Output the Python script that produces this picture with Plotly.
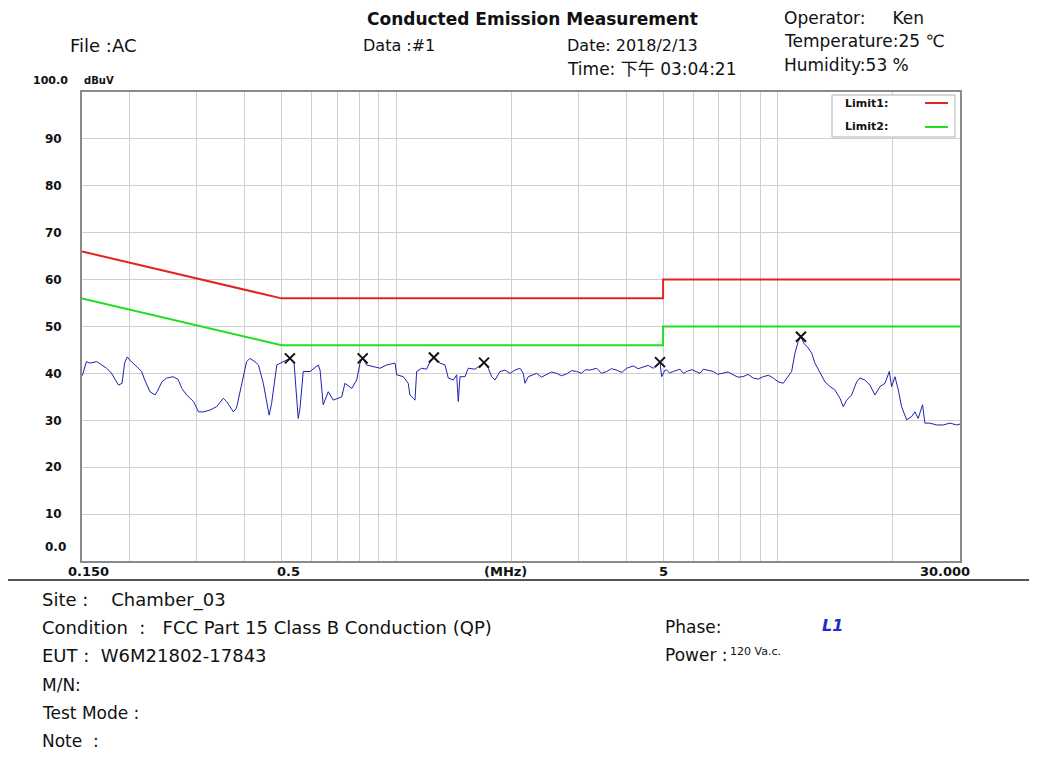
import plotly.graph_objects as go

# ---------------- data ----------------
freq_mhz = [
    0.150, 0.151, 0.154, 0.157, 0.164, 0.169, 0.174, 0.179, 0.187, 0.191, 0.194, 0.197, 0.202, 0.209, 0.215, 0.219,
    0.226, 0.233, 0.236, 0.243, 0.250, 0.260, 0.268, 0.274, 0.282, 0.294, 0.303, 0.312, 0.325, 0.338, 0.352, 0.359, 0.374, 0.381,
    0.393, 0.405, 0.413, 0.426, 0.435, 0.448, 0.464, 0.471, 0.486, 0.505, 0.526, 0.539, 0.553, 0.559, 0.570, 0.594,
    0.624, 0.631, 0.643, 0.663, 0.683, 0.719, 0.733, 0.764, 0.787, 0.803, 0.816, 0.836, 0.870, 0.906, 0.943, 0.992,
    1.002, 1.043, 1.074, 1.085, 1.107, 1.119, 1.130, 1.165, 1.200, 1.225, 1.254, 1.301, 1.341, 1.368, 1.410, 1.439, 1.453, 1.468,
    1.513, 1.543, 1.607, 1.673, 1.697, 1.741, 1.777, 1.813, 1.869, 1.926, 1.985, 2.046, 2.108, 2.151, 2.173, 2.217, 2.331,
    2.40, 2.477, 2.55, 2.631, 2.71, 2.795, 2.88, 2.969, 3.060, 3.13, 3.216, 3.350, 3.45, 3.557, 3.66, 3.779, 3.90, 4.014, 4.178, 4.30, 4.437, 4.57, 4.713, 4.908,
    4.957, 5.005, 5.057, 5.108, 5.20, 5.316, 5.426, 5.536, 5.65, 5.764, 5.95, 6.122, 6.25, 6.371, 6.55, 6.767, 6.95, 7.187, 7.40, 7.634, 7.85, 8.109, 8.35, 8.613, 8.88, 9.150, 9.45, 9.719, 9.85,
    10.02, 10.32, 10.64, 10.86, 11.08, 11.30, 11.49, 11.70, 12.01, 12.26, 12.50, 12.89, 13.28, 13.69, 14.10, 14.54,
    14.83, 15.14, 15.60, 16.08, 16.40, 16.90, 17.42, 17.96, 18.51, 19.08, 19.58, 19.86, 20.26,
    20.67, 21.09, 21.74, 22.41, 22.86, 23.31, 23.93, 24.27, 25.01, 26.05, 27.10, 28.23, 29.40, 30.0,
]
level_dbuv = [
    39.5, 40.1, 42.5, 42.2, 42.5, 41.8, 41.1, 40.1, 37.5, 37.9, 42.2, 43.5, 42.5, 41.4, 40.4, 38.6,
    36.1, 35.4, 36.1, 38.2, 39.0, 39.3, 38.7, 36.8, 35.4, 34.0, 31.8, 31.8, 32.2, 32.9, 34.7, 34.0, 31.8, 32.6,
    37.9, 42.5, 43.2, 42.5, 41.8, 37.9, 31.1, 33.6, 41.8, 42.5, 43.2, 42.5, 30.4, 32.6, 40.4, 40.4,
    41.8, 40.7, 33.3, 36.1, 34.3, 35.0, 37.9, 36.8, 38.6, 42.2, 43.2, 41.8, 41.4, 41.1, 41.8, 42.2,
    39.7, 39.3, 37.9, 35.4, 34.7, 34.3, 40.4, 41.1, 40.9, 42.5, 43.4, 42.2, 41.8, 39.0, 38.6, 39.7, 34.0, 39.3,
    39.3, 41.1, 40.9, 41.8, 42.3, 41.1, 39.3, 38.6, 40.4, 40.7, 40.0, 40.7, 41.1, 40.0, 37.9, 39.3, 40.0,
    39.2, 39.7, 40.3, 40.0, 39.5, 39.9, 40.6, 40.4, 40.0, 40.8, 40.7, 41.1, 40.0, 40.4, 41.0, 40.7, 40.2, 41.1, 41.6, 41.0, 41.3, 41.7, 41.1, 42.4,
    39.3, 40.0, 40.7, 40.7, 40.1, 40.4, 40.6, 40.9, 40.0, 40.4, 40.8, 40.4, 40.0, 40.9, 40.6, 40.4, 39.8, 40.0, 40.3, 39.7, 39.2, 39.3, 39.8, 39.0, 38.8, 39.3, 39.6, 39.0, 38.6,
    38.2, 37.9, 39.3, 40.4, 44.3, 46.8, 47.8, 46.4, 45.4, 44.3, 42.2, 40.0, 38.2, 37.2, 36.5, 34.7,
    32.9, 34.3, 35.4, 38.2, 39.0, 38.6, 37.5, 35.4, 37.2, 37.9, 40.4, 37.2, 39.3,
    36.5, 32.9, 30.1, 30.8, 31.8, 30.4, 33.3, 29.4, 29.4, 29.0, 29.0, 29.4, 29.0, 29.2,
]
assert len(freq_mhz) == len(level_dbuv)

peak_freq = [0.526, 0.816, 1.254, 1.697, 4.908, 11.49]
peak_level = [43.2, 43.2, 43.4, 42.3, 42.4, 47.8]

limit_freq = [0.15, 0.5, 5.0, 5.0, 30.0]
limit1_level = [66, 56, 56, 60, 60]
limit2_level = [56, 46, 46, 50, 50]

y_ticks = [10, 20, 30, 40, 50, 60, 70, 80, 90]
grid_freqs = [0.2, 0.3, 0.4, 0.5, 0.6, 0.7, 0.8, 0.9, 1, 2, 3, 4, 5, 6, 7, 8, 9, 10, 20]

# ---------------- layout geometry ----------------
OFF = 8  # page body margin
W, H = 1037 - OFF, 763 - OFF
L, R, T, B = 82, 960, 92, 561  # plot frame, in page pixels
SANS = "DejaVu Sans, Liberation Sans, Noto Sans CJK SC, sans-serif"


def px(xp):
    return (xp - L) / (R - L)


def py(yp):
    return (B - yp) / (B - T)


fig = go.Figure()

fig.add_trace(go.Scatter(x=limit_freq, y=limit1_level, mode="lines",
                         line=dict(color="#e42420", width=2), showlegend=False, hoverinfo="skip"))
fig.add_trace(go.Scatter(x=limit_freq, y=limit2_level, mode="lines",
                         line=dict(color="#22dd22", width=2), showlegend=False, hoverinfo="skip"))
fig.add_trace(go.Scatter(x=freq_mhz, y=level_dbuv, mode="lines",
                         line=dict(color="#1e22b0", width=1), showlegend=False))
fig.add_trace(go.Scatter(x=peak_freq, y=peak_level, mode="markers",
                         marker=dict(symbol="x-thin", size=10, line=dict(color="#111111", width=2)),
                         showlegend=False))

fig.update_layout(
    width=W, height=H,
    margin=dict(l=L - OFF, r=W - (R - OFF), t=T - OFF, b=H - (B - OFF), pad=0),
    paper_bgcolor="white", plot_bgcolor="white",
    font=dict(family=SANS, color="#111111"),
    xaxis=dict(type="log", range=[-0.8239087, 1.4771213], showgrid=False,
               showticklabels=False, ticks="", zeroline=False,
               showline=True, mirror=True, linecolor="#8a8a8a", linewidth=2,
               minor=dict(tickmode="array", tickvals=grid_freqs, showgrid=True,
                          gridcolor="#cfcfcf", gridwidth=1, ticks="")),
    yaxis=dict(range=[0, 100], tickvals=y_ticks, ticktext=[f"<b>{v}</b>" for v in y_ticks],
               tickfont=dict(size=12, color="#111111", family=SANS), ticks="", ticklabelstandoff=16,
               showgrid=True, gridcolor="#cfcfcf", gridwidth=1, zeroline=False,
               showline=True, mirror=True, linecolor="#8a8a8a", linewidth=2),
)

annotations = []


def text(s, x, y, size=15, anchor="left", color="#111111", bold=False, italic=False):
    if bold:
        s = f"<b>{s}</b>"
    if italic:
        s = f"<i>{s}</i>"
    annotations.append(dict(text=s, x=px(x), y=py(y), xref="paper", yref="paper",
                            xanchor=anchor, yanchor="middle", showarrow=False,
                            font=dict(size=size, color=color, family=SANS)))


# header
text("Conducted Emission Measurement", 365, 19, size=17, bold=True)
text("File :AC", 68, 45, size=18)
text("Data :#1", 361, 45, size=16)
text("Date: 2018/2/13", 565, 45, size=16)
text("Time: 下午 03:04:21", 565, 69, size=17)
text("Operator:     Ken", 782, 18, size=17)
text("Temperature:25 ℃", 782, 41, size=17)
text("Humidity:53 %", 782, 65, size=17)

# y-axis extra labels
text("100.0", 70, 81, size=11, anchor="right", bold=True)
text("dBuV", 82, 81, size=10, bold=True)
text("0.0", 68, 547, size=12, anchor="right", bold=True)

# x-axis labels
text("0.150", 88, 571, size=13, anchor="center", bold=True)
text("0.5", 288, 571, size=13, anchor="center", bold=True)
text("(MHz)", 505, 571, size=13, anchor="center", bold=True)
text("5", 663, 571, size=13, anchor="center", bold=True)
text("30.000", 945, 571, size=13, anchor="center", bold=True)

# legend
text("Limit1:", 843, 103, size=11, bold=True)
text("Limit2:", 843, 126, size=11, bold=True)

# footer
text("Site :    Chamber_03", 40, 600, size=18)
text("Condition  :   FCC Part 15 Class B Conduction (QP)", 40, 627, size=18)
text("EUT :  W6M21802-17843", 40, 655, size=18)
text("M/N:", 40, 685, size=17)
text("Test Mode :", 40, 713, size=17)
text("Note  :", 40, 741, size=17)
text("Phase:", 663, 627, size=17)
text("L1", 820, 625, size=16, color="#1a2fd0", bold=True, italic=True)
text("Power :", 663, 655, size=17)
text("120 Va.c.", 728, 651, size=11)

fig.update_layout(annotations=annotations)

shapes = [
    dict(type="rect", xref="paper", yref="paper", x0=px(832), x1=px(955), y0=py(137), y1=py(95),
         line=dict(color="#b0b0b0", width=1), fillcolor="white", layer="above"),
    dict(type="line", xref="paper", yref="paper", x0=px(925), x1=px(948), y0=py(103), y1=py(103),
         line=dict(color="#e42420", width=2), layer="above"),
    dict(type="line", xref="paper", yref="paper", x0=px(925), x1=px(948), y0=py(127), y1=py(127),
         line=dict(color="#22dd22", width=2), layer="above"),
    dict(type="line", xref="paper", yref="paper", x0=px(5), x1=px(1037), y0=py(580), y1=py(580),
         line=dict(color="#555555", width=2)),
]
fig.update_layout(shapes=shapes)

fig.write_html("out.html")
